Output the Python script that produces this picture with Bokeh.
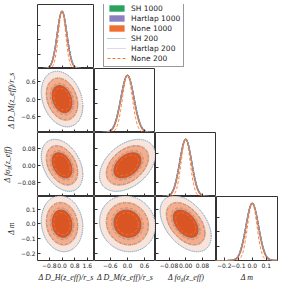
import numpy as np
from bokeh.plotting import figure
from bokeh.models import Range1d, FixedTicker, GridPlot, Legend, LegendItem
from bokeh.embed import file_html
from bokeh.resources import INLINE

# ---------------- data ----------------
param_labels = ["Δ D_H(z_eff)/r_s", "Δ D_M(z_eff)/r_s", "Δ fσ₈(z_eff)", "Δ m"]
param_means = [0.0, 0.0, 0.0, 0.0]
param_sigmas = [0.31, 0.23, 0.029, 0.045]          # 1-D widths of the SH 1000 posterior
col_ranges = [(-1.55, 2.05), (-1.15, 0.98), (-0.145, 0.148), (-0.255, 0.18)]
row_ranges = [(0.0, 1.12), (-1.17, 1.07), (-0.147, 0.155), (-0.25, 0.185)]
tick_values = [[-0.8, 0.0, 0.8, 1.6], [-0.6, 0.0, 0.6], [-0.08, 0.0, 0.08], [-0.2, -0.1, 0.0, 0.1]]
tick_labels = [["−0.8", "0.0", "0.8", "1.6"], ["−0.6", "0.0", "0.6"],
               ["−0.08", "0.00", "0.08"], ["−0.2", "−0.1", "0.0", "0.1"]]
diag_ticks = [0.25, 0.5, 0.75]
# correlation coefficients (row param, col param)
corr_pairs = [(1, 0), (2, 0), (2, 1), (3, 0), (3, 1), (3, 2)]
corr_values = [-0.25, -0.35, 0.40, -0.10, -0.08, -0.45]
contour_levels = [2.2, 3.2, 4.2]                   # 2-D contour radii (in sigma units)

dataset_names = ["SH 1000", "Hartlap 1000", "None 1000", "SH 200", "Hartlap 200", "None 200"]
dataset_widths = [1.00, 1.00, 0.95, 1.02, 1.01, 0.75]
contour_widths = [1.00, 1.00, 0.98, 1.01, 1.00, 0.75]
line_colors = ["#2ca25f", "#6b63ad", "#ee6a2a", "#5aa8a4", "#b8b2dc", "#f07a3c"]
line_dashes = ["solid", "solid", "solid", "1 1", "1 1", "3 2"]
fill_colors = {
    "SH 1000": ["#2ca25f", "#99d8c9", "#e5f5f9"],
    "Hartlap 1000": ["#8c7fc0", "#bcbddc", "#efedf5"],
    "None 1000": ["#d95523", "#f3ae90", "#fce3d7"],
}
legend_patch_colors = ["#2ca25f", "#8c7fc0", "#ee6f30"]

# ---------------- layout ----------------
L, FW, T, FH, B = 33, 61, 4, 64, 24
TXT = "#222222"
FRAME = "#333333"

corr = {pair: v for pair, v in zip(corr_pairs, corr_values)}


def style_axis(ax, labelled, ticks, labels):
    ax.axis_line_color = None
    if labelled:
        ax.ticker = FixedTicker(ticks=ticks)
        ax.major_tick_in = 3
        ax.major_tick_out = 0
        ax.minor_tick_line_color = None
        ax.major_tick_line_color = FRAME
        ax.major_label_overrides = {v: s for v, s in zip(ticks, labels)}
        ax.major_label_text_font_size = "6px"
        ax.major_label_text_font = "DejaVu Sans"
        ax.major_label_text_color = TXT
        ax.major_label_standoff = 2
    else:
        # tick marks only (drawn as minor ticks so that no labels exist)
        ax.ticker = FixedTicker(ticks=[], minor_ticks=ticks)
        ax.major_tick_line_color = None
        ax.minor_tick_in = 3
        ax.minor_tick_out = 0
        ax.minor_tick_line_color = FRAME
        ax.major_label_standoff = 0


def make_fig(r, c):
    w = FW + (L if c == 0 else 0) + (1 if c == 3 else 0)
    h = FH + (T if r == 0 else 0) + (B if r == 3 else 0)
    yr = row_ranges[r] if r != c else row_ranges[0]
    p = figure(width=w, height=h, output_backend="svg", toolbar_location=None,
               x_range=Range1d(*col_ranges[c]), y_range=Range1d(*yr),
               min_border_left=L if c == 0 else 0, min_border_right=1 if c == 3 else 0,
               min_border_top=T if r == 0 else 0, min_border_bottom=B if r == 3 else 0)
    p.grid.visible = False
    p.outline_line_color = FRAME
    p.outline_line_width = 1
    p.background_fill_color = "white"
    p.border_fill_color = "white"
    style_axis(p.xaxis[0], r == 3, tick_values[c], tick_labels[c])
    if r == c:
        style_axis(p.yaxis[0], False, diag_ticks, [])
    else:
        style_axis(p.yaxis[0], c == 0, tick_values[r], tick_labels[r])
    if r == 3:
        p.xaxis.axis_label = param_labels[c]
    if c == 0 and r > 0:
        p.yaxis.axis_label = param_labels[r]
    for ax in (p.xaxis[0], p.yaxis[0]):
        ax.axis_label_text_font = "Liberation Serif"
        ax.axis_label_text_font_style = "italic"
        ax.axis_label_text_font_size = "8px"
        ax.axis_label_text_color = TXT
        ax.axis_label_standoff = 2
    return p


def ellipse_xy(i, j, scale, level):
    # i: x param (column), j: y param (row)
    t = np.linspace(0, 2 * np.pi, 160)
    rho = corr[(j, i)]
    sx = param_sigmas[i] * scale * level
    sy = param_sigmas[j] * scale * level
    x = param_means[i] + sx * np.cos(t)
    y = param_means[j] + sy * (rho * np.cos(t) + np.sqrt(1 - rho ** 2) * np.sin(t))
    return x, y


children = []
for r in range(4):
    for c in range(r + 1):
        p = make_fig(r, c)
        if r == c:
            lo, hi = col_ranges[c]
            x = np.linspace(lo, hi, 300)
            for k, name in enumerate(dataset_names):
                s = param_sigmas[c] * dataset_widths[k]
                y = np.exp(-0.5 * ((x - param_means[c]) / s) ** 2)
                p.line(x, y, line_color=line_colors[k], line_width=1.2 if k < 3 else 1.0,
                       line_dash=line_dashes[k])
        else:
            for k, name in enumerate(dataset_names[:3]):
                cols = fill_colors[name]
                for li in (2, 1, 0):
                    ex, ey = ellipse_xy(c, r, contour_widths[k], contour_levels[li])
                    p.patch(ex, ey, fill_color=cols[li], line_color=None)
            for k in range(3, 6):
                for li in (2, 1, 0):
                    ex, ey = ellipse_xy(c, r, contour_widths[k], contour_levels[li])
                    p.line(ex, ey, line_color=line_colors[k], line_width=1.0,
                           line_dash=line_dashes[k])
        children.append((p, r, c))

# legend figure in the empty upper triangle (proxy renderers lie outside its ranges)
lf = figure(width=2 * FW, height=FH + T, output_backend="svg", toolbar_location=None,
            x_range=Range1d(0, 1), y_range=Range1d(0, 1), min_border=0)
lf.axis.visible = False
lf.grid.visible = False
lf.outline_line_color = None
lf.background_fill_alpha = 0
lf.border_fill_alpha = 0
items = []
for k, name in enumerate(dataset_names):
    if k < 3:
        rr = lf.quad(left=[-5], right=[-4], top=[-4], bottom=[-5],
                     fill_color=legend_patch_colors[k], line_color=None)
    else:
        rr = lf.line(x=[-5, -4], y=[-5, -5], line_color=line_colors[k], line_width=1.0,
                     line_dash=line_dashes[k])
    items.append(LegendItem(label=name, renderers=[rr]))
leg = Legend(items=items, location=(9, 1), label_text_font_size="7.5px",
             label_text_font="DejaVu Sans", label_text_color=TXT,
             label_height=10, glyph_height=8, glyph_width=19, label_standoff=5,
             spacing=0, padding=3, margin=0, border_line_color=FRAME, border_line_width=1,
             background_fill_color="white", background_fill_alpha=1)
lf.add_layout(leg)
children.append((lf, 0, 1, 1, 2))

grid = GridPlot(children=children, toolbar_location=None, spacing=0)

open("out.html", "w").write(file_html(grid, INLINE))
